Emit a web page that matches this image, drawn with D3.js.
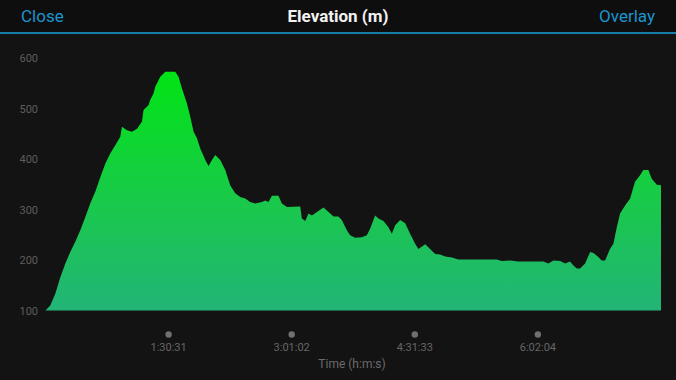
<!DOCTYPE html>
<html>
<head>
<meta charset="utf-8">
<script src="https://cdn.jsdelivr.net/npm/d3@7"></script>
<style>
  html, body { margin: 0; padding: 0; background: #131313; }
  svg { display: block; font-family: Roboto, "Open Sans", sans-serif; }
</style>
</head>
<body>
<script>
// elevation profile: time in minutes, elevation in metres
let timeMin = [0, 3.5, 7.2, 10.9, 14.6, 18.2, 21.9, 25.6, 29.3, 32.9, 36.6, 40.3, 44.0, 47.6, 51.3, 55.0,
  56.2, 59.9, 63.6, 67.3, 70.9, 72.1, 75.8, 77.0, 79.5, 80.7, 84.4, 88.1, 95.4, 97.8, 100.3, 104.0,
  106.4, 108.9, 111.4, 113.8, 117.5, 119.9, 122.4, 124.8, 128.5, 132.2, 135.8, 139.5, 143.2, 146.9,
  150.5, 154.2, 159.1, 161.6, 164.0, 166.5, 171.3, 173.8, 177.5, 187.3, 188.5, 191.0, 193.4, 195.9,
  199.6, 204.4, 208.1, 211.8, 215.4, 217.9, 221.6, 224.0, 227.7, 232.6, 236.3, 238.7, 242.4, 244.8,
  248.5, 252.2, 254.7, 257.1, 260.8, 264.5, 268.1, 271.8, 274.2, 279.2, 282.8, 286.5, 290.2, 293.9,
  298.8, 303.6, 308.5, 319.5, 331.9, 335.5, 341.6, 347.7, 366.1, 369.8, 373.5, 378.4, 382.1, 385.7,
  388.2, 390.7, 393.1, 396.8, 400.5, 402.9, 406.5, 409.0, 411.5, 415.1, 417.6, 420.1, 422.5, 426.2,
  429.9, 433.5, 437.2, 439.6, 443.3, 445.8, 449.5, 452.6];
let elevation = [100, 110, 133, 166, 193, 216, 236, 259, 285, 312, 335, 364, 391, 411, 427, 444,
  464, 457, 454, 460, 474, 497, 507, 517, 530, 543, 563, 573, 573, 563, 540, 510,
  484, 454, 441, 421, 398, 386, 398, 408, 398, 378, 348, 332, 325, 322,
  315, 312, 315, 318, 315, 327, 327, 312, 305, 306, 282, 277, 292, 288,
  295, 304, 295, 286, 286, 279, 259, 249, 244, 245, 249, 262, 288, 282,
  277, 265, 252, 269, 279, 273, 252, 232, 222, 231, 222, 212, 211, 207,
  205, 201, 201, 201, 201, 198, 199, 197, 197, 193, 199, 198, 193, 197,
  189, 183, 183, 193, 216, 214, 206, 199, 199, 222, 232, 265, 292, 308,
  322, 355, 368, 378, 378, 361, 349, 348];

let yTicks = [100, 200, 300, 400, 500, 600];
let xTickSeconds = [5431, 10862, 16293, 21724];
let xTickLabels = ["1:30:31", "3:01:02", "4:31:33", "6:02:04"];

let w = 676, h = 380;
let data = timeMin.map((t, i) => ({t: t, e: elevation[i]}));

let svg = d3.select("body").append("svg").attr("width", w).attr("height", h);

// header bar
svg.append("rect").attr("width", w).attr("height", 32).attr("fill", "#0e0e0e");
svg.append("rect").attr("y", 32).attr("width", w).attr("height", 2).attr("fill", "#177ea8");

svg.append("text").text("Close").attr("x", 21).attr("y", 22)
  .attr("font-size", "17px").attr("fill", "#1b95d0");
svg.append("text").text("Elevation (m)").attr("x", 338).attr("y", 22)
  .attr("text-anchor", "middle").attr("font-size", "17px").attr("font-weight", "bold").attr("fill", "#f2f2f2");
svg.append("text").text("Overlay").attr("x", 655).attr("y", 22)
  .attr("text-anchor", "end").attr("font-size", "17px").attr("fill", "#1b95d0");

let xScale = d3.scaleLinear().domain([0, d3.max(timeMin)]).range([45.5, 661]);
let yScale = d3.scaleLinear().domain([100, 600]).range([310.5, 58]);

// gradient, fixed to the y range so colour goes with height
let defs = svg.append("defs");
let grad = defs.append("linearGradient").attr("id", "elevGrad")
  .attr("gradientUnits", "userSpaceOnUse")
  .attr("x1", 0).attr("x2", 0)
  .attr("y1", yScale(580)).attr("y2", yScale(100));
grad.append("stop").attr("offset", "0%").attr("stop-color", "#00e513");
grad.append("stop").attr("offset", "55%").attr("stop-color", "#19c94a");
grad.append("stop").attr("offset", "100%").attr("stop-color", "#22b477");

let area = d3.area()
  .x(d => xScale(d.t))
  .y0(yScale(100))
  .y1(d => yScale(d.e));

svg.append("path").datum(data).attr("d", area).attr("fill", "url(#elevGrad)");

// y axis labels
let yAxis = svg.append("g").attr("transform", "translate(38,0)")
  .call(d3.axisLeft(yScale).tickValues(yTicks).tickSize(0).tickPadding(0));
yAxis.select(".domain").remove();
yAxis.selectAll("text").attr("fill", "#5e5e5e").attr("font-size", "11px")
  .attr("font-family", "Roboto, sans-serif");

// x axis: dots with labels
let xAxis = svg.append("g");
let ticks = xAxis.selectAll("g").data(xTickSeconds).enter().append("g")
  .attr("transform", d => "translate(" + xScale(d / 60) + ",0)");
ticks.append("circle").attr("cy", 334.5).attr("r", 3.2).attr("fill", "#707070");
ticks.append("text").text((d, i) => xTickLabels[i]).attr("y", 351)
  .attr("text-anchor", "middle").attr("font-size", "11px").attr("fill", "#666");

svg.append("text").text("Time (h:m:s)").attr("x", 352).attr("y", 368)
  .attr("text-anchor", "middle").attr("font-size", "12px").attr("fill", "#6a6a6a");
</script>
</body>
</html>
